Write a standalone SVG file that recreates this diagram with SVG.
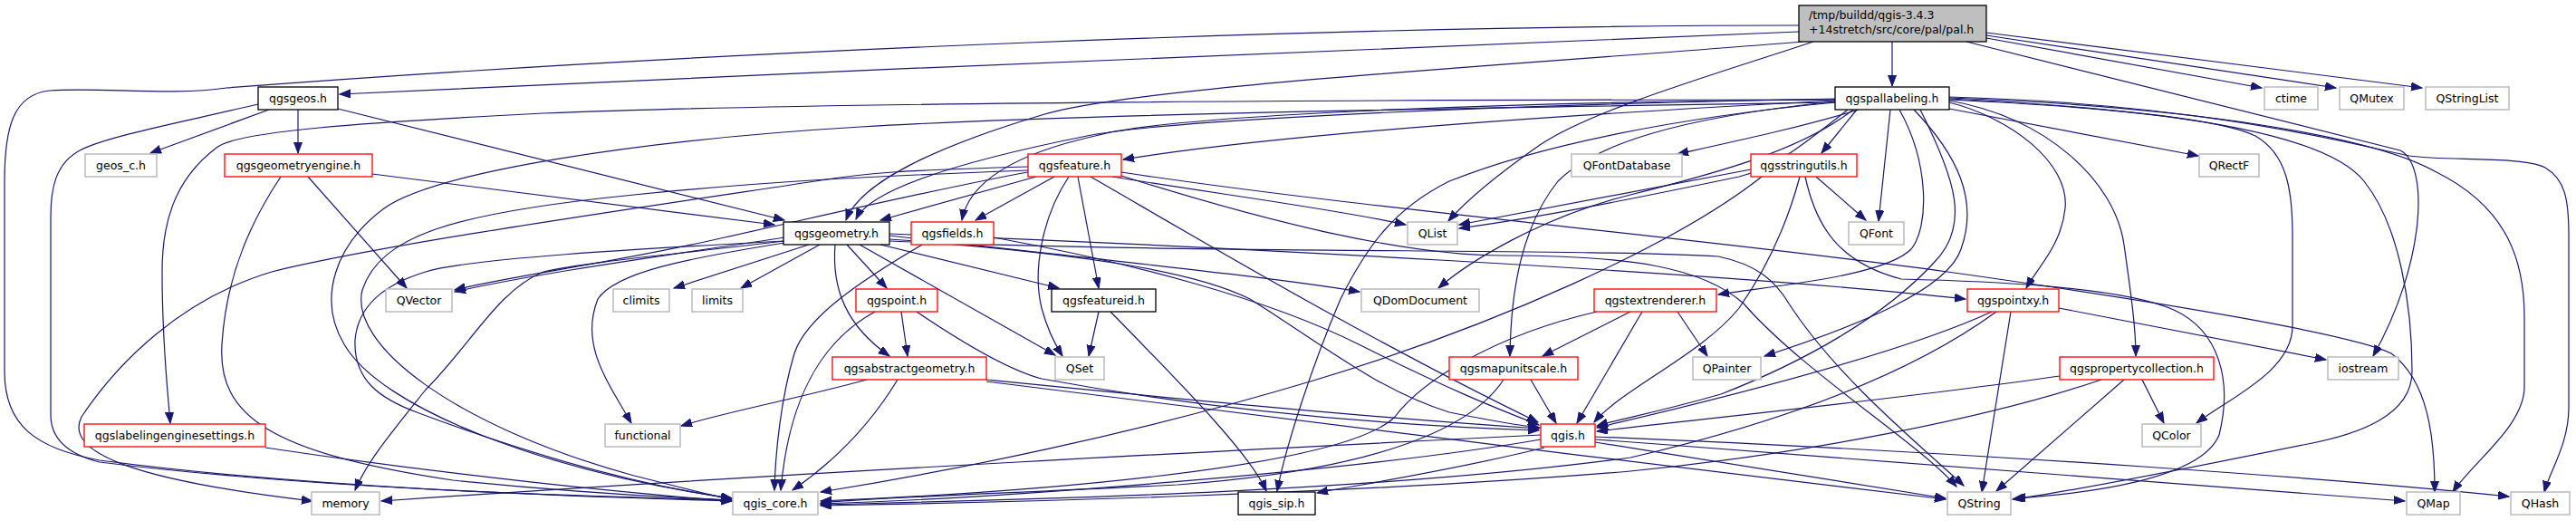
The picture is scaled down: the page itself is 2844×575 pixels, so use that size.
<svg xmlns="http://www.w3.org/2000/svg" width="2844" height="575" viewBox="0 0 2844 575">
<defs>
<marker id="a" markerWidth="14" markerHeight="10" refX="12" refY="4.5" orient="auto" markerUnits="userSpaceOnUse"><path d="M0,0 L12,4.5 L0,9 z" fill="#191970" stroke="#191970" stroke-width="1"/></marker>
</defs>
<style>
text{font-family:"DejaVu Sans",Verdana,sans-serif;font-size:12.5px;fill:#000;text-anchor:middle}
.n rect{fill:#fff;stroke-width:1.3}
.b rect{stroke:#000}
.r rect{stroke:#ff0000}
.g rect{stroke:#bfbfbf;stroke-width:1.6}
#edges path{fill:none;stroke:#191970;stroke-width:1.2;marker-end:url(#a)}
</style>
<rect width="2844" height="575" fill="#fff"/>
<g id="edges">
<path d="M2089,46 L2089,95"/>
<path d="M2193,42 L2497,97"/>
<path d="M2193,39 L2579,97"/>
<path d="M2193,36 L2674,97"/>
<path d="M2171,46 L2650,166 C2682,182 2678,290 2620,393"/>
<path d="M1986,35 C1600,48 900,80 375,104"/>
<path d="M1986,28 C1500,28 800,55 250,97 C190,106 110,96 55,100 C15,104 5,140 5,200 L5,410 C5,470 40,495 110,508 C350,540 650,548 808,553"/>
<path d="M1990,46 C1700,70 1250,95 1150,127 C1040,160 950,200 934,243"/>
<path d="M2002,46 C1900,80 1760,120 1700,160 C1650,195 1620,220 1599,244"/>
<path d="M297,121 L166,169"/>
<path d="M329,121 L329,169"/>
<path d="M373,120 L866,243"/>
<path d="M285,115 C200,135 120,150 90,165 C60,180 56,210 56,240 L56,458 C56,480 70,500 110,510 C350,540 650,548 808,552"/>
<path d="M411,192 L855,248"/>
<path d="M340,195 L449,318"/>
<path d="M310,195 C280,240 250,300 245,380 C240,460 300,500 500,530 C650,545 760,550 808,552"/>
<path d="M2052,121 C1990,140 1920,155 1852,170"/>
<path d="M2050,121 L2011,169"/>
<path d="M2087,121 L2074,244"/>
<path d="M2152,120 L2427,172"/>
<path d="M2152,113 C2220,130 2285,180 2280,230 C2276,270 2250,295 2237,318"/>
<path d="M2152,111 C2260,130 2335,200 2345,270 C2352,320 2358,360 2358,393"/>
<path d="M2152,110 C2320,118 2450,130 2490,150 C2525,170 2531,210 2531,260 L2531,360 C2531,410 2460,440 2425,467"/>
<path d="M2152,109 C2420,122 2570,150 2610,200 C2650,250 2663,340 2663,410 C2663,460 2600,480 2548,490 C2400,520 2270,545 2222,551"/>
<path d="M2152,108 C2420,118 2620,150 2690,190 C2770,230 2787,290 2787,350 L2787,427 C2787,470 2730,510 2708,543"/>
<path d="M2152,107 C2450,115 2620,165 2660,172 C2700,178 2785,172 2810,185 C2832,198 2836,220 2836,260 L2836,450 C2836,490 2815,520 2809,543"/>
<path d="M2113,121 C2160,170 2185,220 2165,275 C2150,320 2050,360 1948,393"/>
<path d="M2097,121 C2130,180 2130,250 2110,275 C2080,305 1960,315 1897,325"/>
<path d="M2026,113 C1850,130 1700,160 1600,200 C1540,230 1510,270 1480,330 C1450,400 1420,490 1410,542"/>
<path d="M2026,112 C1850,130 1760,160 1720,200 C1680,250 1668,320 1667,393"/>
<path d="M2120,121 C2160,200 2175,250 2135,290 C2080,350 1990,400 1900,435 C1830,455 1790,462 1763,470"/>
<path d="M2026,113 C1700,118 1200,125 950,140 C700,155 480,190 424,230 C370,270 350,330 380,380 C420,450 600,520 808,550"/>
<path d="M2026,110 C1500,110 900,113 600,125 C400,135 260,145 239,163 C190,200 179,250 179,300 C179,380 185,430 188,467"/>
<path d="M2026,111 C1700,128 1400,150 1240,176"/>
<path d="M2026,109 C1700,115 1300,130 1200,150 C1050,180 960,210 945,242"/>
<path d="M2026,110 C1700,112 1300,125 1209,150 C1120,170 1070,200 1062,243"/>
<path d="M2040,121 C1990,160 1960,185 1920,195 C1800,220 1700,240 1611,252"/>
<path d="M2046,121 C1990,165 1900,190 1800,215 C1700,240 1620,290 1588,318"/>
<path d="M2005,195 L2060,243"/>
<path d="M1933,187 L1611,248"/>
<path d="M1945,195 C1850,270 1650,360 1450,420 C1250,480 1050,520 906,543"/>
<path d="M1987,195 C1975,240 1955,290 1920,340 C1880,390 1790,430 1760,466"/>
<path d="M1993,195 C2005,250 2030,290 2099,308 C2180,310 2340,315 2400,342 C2450,365 2465,420 2450,480 C2430,530 2300,545 2224,550"/>
<path d="M1144,195 L972,243"/>
<path d="M1164,195 L1077,243"/>
<path d="M1190,195 L1213,318"/>
<path d="M1180,195 C1150,240 1140,300 1150,340 C1158,370 1168,385 1173,393"/>
<path d="M1204,195 C1300,250 1500,370 1698,466"/>
<path d="M1228,195 C1350,215 1470,230 1552,248"/>
<path d="M1238,190 C1500,230 1900,265 2150,300 C2400,335 2600,370 2640,390 C2680,420 2688,480 2688,543"/>
<path d="M1238,194 C1400,245 1550,282 1660,282 C1800,282 1880,295 1925,335 C1990,410 2120,490 2160,537"/>
<path d="M1135,190 C1050,205 900,240 800,262 C680,290 560,305 502,320"/>
<path d="M1135,184 C1000,188 960,190 900,200 C700,230 420,270 300,300 C200,330 130,400 90,460 C70,500 150,530 345,553"/>
<path d="M1135,188 C950,195 850,200 700,215 C500,235 420,260 400,320 C385,380 500,470 700,525 C760,540 790,548 808,551"/>
<path d="M866,262 C750,280 600,300 502,322"/>
<path d="M893,270 L744,318"/>
<path d="M905,270 L818,318"/>
<path d="M935,270 L979,318"/>
<path d="M922,270 C918,320 935,360 982,393"/>
<path d="M949,270 L1165,392"/>
<path d="M972,270 L1169,318"/>
<path d="M866,268 C760,285 680,300 660,330 C640,380 670,420 697,467"/>
<path d="M866,266 C750,280 640,290 600,300 C550,320 520,380 470,430 C430,480 405,510 392,541"/>
<path d="M866,266 C700,275 520,285 470,300 C420,315 395,340 392,375 C390,420 420,440 460,455 C580,500 700,535 808,550"/>
<path d="M982,260 C1200,285 1400,305 1501,322"/>
<path d="M982,258 C1300,270 1900,300 2170,330"/>
<path d="M982,264 C1200,280 1320,300 1380,330 C1460,380 1520,430 1600,455 C1650,465 1680,470 1700,472"/>
<path d="M982,266 C1300,280 1750,274 1897,283 C1940,292 1960,310 1975,335 C2030,420 2130,500 2168,536"/>
<path d="M1018,270 C950,310 890,350 877,390 C862,440 856,500 855,541"/>
<path d="M1097,262 C1250,290 1400,330 1500,380 C1600,430 1650,450 1699,469"/>
<path d="M995,344 L1002,393"/>
<path d="M966,344 C900,380 870,450 862,541"/>
<path d="M1012,344 C1080,390 1120,410 1150,418 C1350,455 1550,470 1699,475"/>
<path d="M957,419 C880,440 800,455 752,470"/>
<path d="M991,419 C960,470 920,510 875,541"/>
<path d="M1089,419 C1300,440 1500,460 1699,473"/>
<path d="M1089,421 C1400,460 1800,510 2148,551"/>
<path d="M1213,344 L1202,393"/>
<path d="M1226,344 C1300,420 1380,500 1398,542"/>
<path d="M1852,344 L1885,393"/>
<path d="M1800,344 L1703,393"/>
<path d="M1813,344 L1741,467"/>
<path d="M1763,344 C1650,370 1570,420 1540,460 C1480,520 1100,545 906,553"/>
<path d="M1690,419 L1718,467"/>
<path d="M1660,419 C1620,480 1500,520 1300,535 C1100,545 950,550 906,555"/>
<path d="M2273,340 L2568,397"/>
<path d="M2220,344 L2188,543"/>
<path d="M2199,344 C2100,390 1900,440 1763,472"/>
<path d="M2204,344 C2100,420 1950,470 1800,505 C1500,545 1100,552 906,557"/>
<path d="M2365,419 L2389,467"/>
<path d="M2345,419 L2204,542"/>
<path d="M2274,415 C2100,440 1900,460 1763,476"/>
<path d="M2320,419 C2200,460 2000,500 1800,520 C1500,545 1100,555 906,558"/>
<path d="M293,494 C500,525 700,545 808,553"/>
<path d="M1701,485 C1500,520 1100,550 906,556"/>
<path d="M1705,494 C1600,520 1500,535 1454,544"/>
<path d="M1761,488 C1900,510 2050,535 2148,550"/>
<path d="M1761,485 C2100,510 2450,535 2655,553"/>
<path d="M1761,482 C2200,500 2600,530 2770,548"/>
<path d="M1701,480 C1400,495 900,520 421,553"/>
</g>
<g id="pal_h" class="n b"><rect x="1986" y="6" width="207" height="40" style="fill:#bfbfbf"/><text x="1997" y="21" style="text-anchor:start">/tmp/buildd/qgis-3.4.3</text><text x="1997" y="37" style="text-anchor:start">+14stretch/src/core/pal/pal.h</text></g>
<g id="qgsgeos_h" class="n b"><rect x="285" y="96" width="88" height="25"/><text x="329" y="112.5">qgsgeos.h</text></g>
<g id="qgspallabeling_h" class="n b"><rect x="2026" y="96" width="126" height="25"/><text x="2089" y="112.5">qgspallabeling.h</text></g>
<g id="ctime" class="n g"><rect x="2500" y="96" width="59" height="25"/><text x="2529.5" y="112.5">ctime</text></g>
<g id="QMutex" class="n g"><rect x="2583" y="96" width="71" height="25"/><text x="2618.5" y="112.5">QMutex</text></g>
<g id="QStringList" class="n g"><rect x="2678" y="96" width="92" height="25"/><text x="2724" y="112.5">QStringList</text></g>
<g id="geos_c_h" class="n g"><rect x="94" y="170" width="79" height="25"/><text x="133.5" y="186.5">geos_c.h</text></g>
<g id="qgsgeometryengine_h" class="n r"><rect x="248" y="170" width="163" height="25"/><text x="329.5" y="186.5">qgsgeometryengine.h</text></g>
<g id="qgsfeature_h" class="n r"><rect x="1135" y="170" width="103" height="25"/><text x="1186.5" y="186.5">qgsfeature.h</text></g>
<g id="QFontDatabase" class="n g"><rect x="1735" y="170" width="122" height="25"/><text x="1796" y="186.5">QFontDatabase</text></g>
<g id="qgsstringutils_h" class="n r"><rect x="1933" y="170" width="117" height="25"/><text x="1991.5" y="186.5">qgsstringutils.h</text></g>
<g id="QRectF" class="n g"><rect x="2428" y="170" width="66" height="25"/><text x="2461" y="186.5">QRectF</text></g>
<g id="qgsgeometry_h" class="n b"><rect x="865" y="245" width="117" height="25"/><text x="923.5" y="261.5">qgsgeometry.h</text></g>
<g id="qgsfields_h" class="n r"><rect x="1006" y="245" width="91" height="25"/><text x="1051.5" y="261.5">qgsfields.h</text></g>
<g id="QList" class="n g"><rect x="1554" y="245" width="55" height="25"/><text x="1581.5" y="261.5">QList</text></g>
<g id="QFont" class="n g"><rect x="2041" y="245" width="61" height="25"/><text x="2071.5" y="261.5">QFont</text></g>
<g id="QVector" class="n g"><rect x="426" y="319" width="73" height="25"/><text x="462.5" y="335.5">QVector</text></g>
<g id="climits" class="n g"><rect x="677" y="319" width="62" height="25"/><text x="708" y="335.5">climits</text></g>
<g id="limits" class="n g"><rect x="764" y="319" width="56" height="25"/><text x="792" y="335.5">limits</text></g>
<g id="qgspoint_h" class="n r"><rect x="945" y="319" width="90" height="25"/><text x="990" y="335.5">qgspoint.h</text></g>
<g id="qgsfeatureid_h" class="n b"><rect x="1161" y="319" width="115" height="25"/><text x="1218.5" y="335.5">qgsfeatureid.h</text></g>
<g id="QDomDocument" class="n g"><rect x="1503" y="319" width="130" height="25"/><text x="1568" y="335.5">QDomDocument</text></g>
<g id="qgstextrenderer_h" class="n r"><rect x="1760" y="319" width="135" height="25"/><text x="1827.5" y="335.5">qgstextrenderer.h</text></g>
<g id="qgspointxy_h" class="n r"><rect x="2172" y="319" width="101" height="25"/><text x="2222.5" y="335.5">qgspointxy.h</text></g>
<g id="qgsabstractgeometry_h" class="n r"><rect x="919" y="394" width="170" height="25"/><text x="1004" y="410.5">qgsabstractgeometry.h</text></g>
<g id="QSet" class="n g"><rect x="1165" y="394" width="54" height="25"/><text x="1192" y="410.5">QSet</text></g>
<g id="qgsmapunitscale_h" class="n r"><rect x="1600" y="394" width="142" height="25"/><text x="1671" y="410.5">qgsmapunitscale.h</text></g>
<g id="QPainter" class="n g"><rect x="1869" y="394" width="75" height="25"/><text x="1906.5" y="410.5">QPainter</text></g>
<g id="qgspropertycollection_h" class="n r"><rect x="2274" y="394" width="170" height="25"/><text x="2359" y="410.5">qgspropertycollection.h</text></g>
<g id="iostream" class="n g"><rect x="2570" y="394" width="78" height="25"/><text x="2609" y="410.5">iostream</text></g>
<g id="qgslabelingenginesettings_h" class="n r"><rect x="93" y="468" width="200" height="25"/><text x="193" y="484.5">qgslabelingenginesettings.h</text></g>
<g id="functional" class="n g"><rect x="668" y="468" width="83" height="25"/><text x="709.5" y="484.5">functional</text></g>
<g id="qgis_h" class="n r"><rect x="1701" y="468" width="60" height="25"/><text x="1731" y="484.5">qgis.h</text></g>
<g id="QColor" class="n g"><rect x="2365" y="468" width="65" height="25"/><text x="2397.5" y="484.5">QColor</text></g>
<g id="memory" class="n g"><rect x="344" y="543" width="75" height="25"/><text x="381.5" y="559.5">memory</text></g>
<g id="qgis_core_h" class="n g"><rect x="809" y="543" width="94" height="25"/><text x="856" y="559.5">qgis_core.h</text></g>
<g id="qgis_sip_h" class="n b"><rect x="1367" y="543" width="85" height="25"/><text x="1409.5" y="559.5">qgis_sip.h</text></g>
<g id="QString" class="n g"><rect x="2150" y="543" width="70" height="25"/><text x="2185" y="559.5">QString</text></g>
<g id="QMap" class="n g"><rect x="2657" y="543" width="59" height="25"/><text x="2686.5" y="559.5">QMap</text></g>
<g id="QHash" class="n g"><rect x="2772" y="543" width="65" height="25"/><text x="2804.5" y="559.5">QHash</text></g>
</svg>
